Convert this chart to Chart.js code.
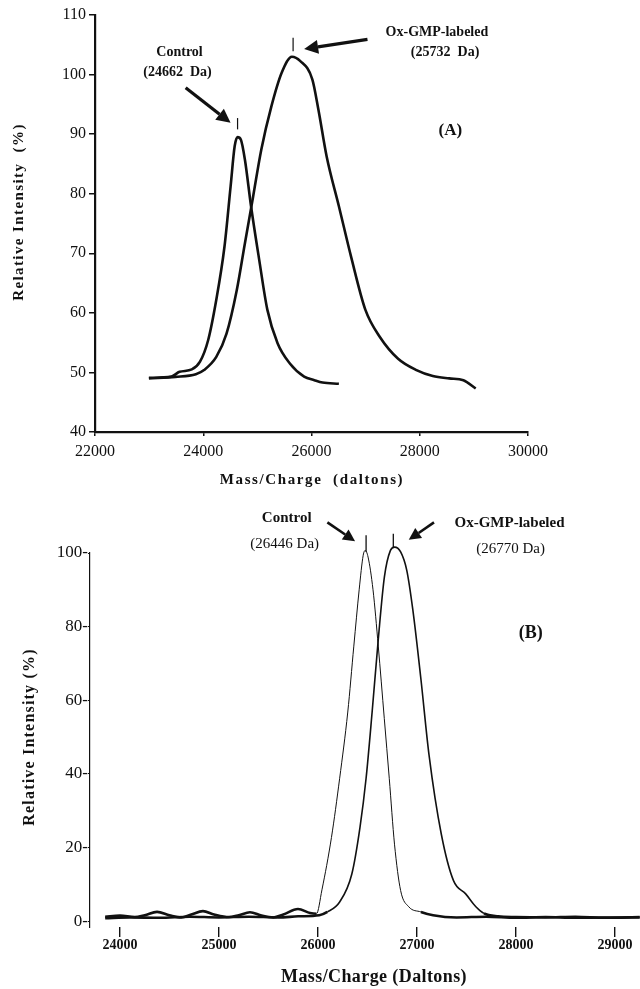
<!DOCTYPE html>
<html>
<head>
<meta charset="utf-8">
<script src="https://cdn.jsdelivr.net/npm/chart.js@4.4.1/dist/chart.umd.min.js"></script>
<style>
  html, body { margin: 0; padding: 0; background: #fff; }
  #wrapA { position: absolute; left: 0; top: 0; width: 640px; height: 490px; }
  #wrapB { position: absolute; left: 0; top: 490px; width: 640px; height: 499px; }
</style>
</head>
<body>
<div id="wrapA"><canvas id="chartA" width="640" height="490"></canvas></div>
<div id="wrapB"><canvas id="chartB" width="640" height="499"></canvas></div>
<script>
// ---------- Panel A data ----------
const ctrlA_mz  = [22996, 23411, 23562, 23789, 23940, 24090, 24241, 24392, 24505, 24581, 24634, 24694, 24770, 24883, 25034, 25185, 25373, 25600, 25864, 26053, 26204, 26506];
const ctrlA_int = [49.1, 49.3, 50.1, 50.5, 51.8, 55.4, 62.2, 71.1, 81.2, 88.0, 89.5, 89.1, 85.7, 77.9, 68.9, 60.5, 54.9, 51.5, 49.3, 48.7, 48.3, 48.1];

const oxA_mz  = [22996, 23487, 23864, 24015, 24241, 24430, 24619, 24770, 24921, 25072, 25260, 25449, 25638, 25789, 26015, 26128, 26279, 26506, 26732, 26996, 27260, 27600, 27939, 28241, 28543, 28807, 29034];
const oxA_int = [49.0, 49.25, 49.7, 50.4, 52.6, 56.5, 63.8, 71.7, 79.5, 87.4, 94.7, 100.3, 103.0, 102.3, 99.2, 94.1, 86.3, 77.9, 69.4, 60.5, 56.0, 52.3, 50.4, 49.4, 49.0, 48.7, 47.3];

const xTicksA = [22000, 24000, 26000, 28000, 30000];
const yTicksA = [40, 50, 60, 70, 80, 90, 100, 110];

// ---------- Panel B data ----------
const ctrlB_mz  = [23850, 24000, 24150, 24250, 24374, 24500, 24620, 24720, 24838, 24950, 25100, 25200, 25313, 25430, 25550, 25650, 25798, 25920, 25985, 26040, 26136, 26219, 26301, 26362, 26416, 26457, 26477, 26506, 26556, 26609, 26670, 26720, 26773, 26835, 26917, 27040, 27163, 27400, 27700, 28000, 28300, 28600, 28900, 29250];
const ctrlB_int = [1.2, 1.5, 1.1, 1.6, 2.5, 1.6, 1.0, 1.8, 2.7, 1.8, 1.1, 1.6, 2.4, 1.5, 1.0, 1.8, 3.3, 2.2, 2.0, 8.5, 22.7, 38.8, 56.8, 74.7, 90.0, 99.4, 100.7, 98.9, 90.0, 74.7, 55.0, 38.8, 20.9, 8.3, 3.9, 2.5, 1.6, 1.0, 1.2, 0.9, 1.1, 0.9, 1.0, 1.0];

const oxB_mz  = [23850, 24100, 24400, 24700, 25000, 25300, 25600, 25800, 26013, 26095, 26219, 26342, 26424, 26486, 26547, 26609, 26671, 26732, 26773, 26835, 26897, 26958, 27040, 27122, 27246, 27369, 27492, 27595, 27677, 27821, 28000, 28300, 28600, 28900, 29250];
const oxB_int = [0.8, 1.0, 0.9, 1.2, 1.0, 1.2, 1.0, 1.3, 1.6, 2.5, 5.2, 12.8, 25.4, 38.8, 56.8, 76.5, 93.5, 100.7, 101.6, 100.3, 95.3, 84.6, 65.7, 45.1, 23.6, 11.0, 7.4, 3.9, 2.1, 1.3, 1.1, 1.0, 1.2, 0.9, 1.1];

const xTicksB = [24000, 25000, 26000, 27000, 28000, 29000];
const yTicksB = [0, 20, 40, 60, 80, 100];

// annotations (data coordinates)
const peaksA  = [{ x: 24634, y0: 90.8, y1: 92.7 }, { x: 25660, y0: 103.9, y1: 106.2 }];
const arrowsA = [{ x0: 23675, y0: 97.8, x1: 24505, y1: 91.9 }, { x0: 27034, y0: 105.9, x1: 25864, y1: 104.3 }];
const textsA  = [
  { t: 'Control', x: 23562, y: 103.7 },
  { t: '(24662  Da)', x: 23524, y: 100.4 },
  { t: 'Ox-GMP-labeled', x: 28317, y: 107.0 },
  { t: '(25732  Da)', x: 28468, y: 103.8 },
  { t: '(A)', x: 28566, y: 90.6, size: 17 }
];

const peaksB  = [{ x: 26486, y0: 100.3, y1: 104.8 }, { x: 26761, y0: 101.6, y1: 105.2 }];
const arrowsB = [{ x0: 26095, y0: 108.3, x1: 26375, y1: 103.2 }, { x0: 27172, y0: 108.3, x1: 26917, y1: 103.6 }];
const textsB  = [
  { t: 'Control', x: 25684, y: 109.5 },
  { t: '(26446 Da)', x: 25664, y: 102.3, bold: false },
  { t: 'Ox-GMP-labeled', x: 27935, y: 108.2 },
  { t: '(26770 Da)', x: 27945, y: 101.1, bold: false },
  { t: '(B)', x: 28150, y: 78.3, size: 18 }
];

const SERIF = "'Liberation Serif', 'DejaVu Serif', serif";

function zip(xs, ys) {
  return xs.map((x, i) => ({ x: x, y: ys[i] }));
}

// draws peak marks, arrows, text labels (data coords) and the axis titles
const marksPlugin = {
  id: 'marks',
  afterDatasetsDraw(chart, args, opts) {
    const ctx = chart.ctx;
    const xs = chart.scales.x, ys = chart.scales.y;
    ctx.save();
    ctx.strokeStyle = '#111';
    ctx.fillStyle = '#111';

    (opts.peaks || []).forEach(p => {
      ctx.lineWidth = opts.peakWidth || 1.2;
      ctx.beginPath();
      ctx.moveTo(xs.getPixelForValue(p.x), ys.getPixelForValue(p.y0));
      ctx.lineTo(xs.getPixelForValue(p.x), ys.getPixelForValue(p.y1));
      ctx.stroke();
    });

    (opts.arrows || []).forEach(a => {
      const x0 = xs.getPixelForValue(a.x0), y0 = ys.getPixelForValue(a.y0);
      const x1 = xs.getPixelForValue(a.x1), y1 = ys.getPixelForValue(a.y1);
      const ang = Math.atan2(y1 - y0, x1 - x0);
      const hl = opts.headLen || 13, hw = opts.headWidth || 6;
      const bx = x1 - hl * Math.cos(ang), by = y1 - hl * Math.sin(ang);
      ctx.lineWidth = opts.arrowWidth || 3;
      ctx.beginPath();
      ctx.moveTo(x0, y0);
      ctx.lineTo(bx, by);
      ctx.stroke();
      ctx.beginPath();
      ctx.moveTo(x1, y1);
      ctx.lineTo(bx + hw * Math.sin(ang), by - hw * Math.cos(ang));
      ctx.lineTo(bx - hw * Math.sin(ang), by + hw * Math.cos(ang));
      ctx.closePath();
      ctx.fill();
    });

    ctx.textAlign = 'center';
    ctx.textBaseline = 'middle';
    (opts.texts || []).forEach(t => {
      const w = t.bold === false ? 'normal' : 'bold';
      ctx.font = w + ' ' + (t.size || opts.fontSize || 14) + 'px ' + SERIF;
      ctx.fillText(t.t, xs.getPixelForValue(t.x), ys.getPixelForValue(t.y));
    });

    // axis titles (spaced out like the original typesetting)
    (opts.titles || []).forEach(t => {
      ctx.save();
      ctx.translate(t.px, t.py);
      if (t.rot) ctx.rotate(t.rot);
      ctx.font = 'bold ' + t.size + 'px ' + SERIF;
      ctx.letterSpacing = (t.spacing || 0) + 'px';
      ctx.fillText(t.t, 0, 0);
      ctx.restore();
    });
    ctx.restore();
  }
};

// =========================
// PANEL A
// =========================
new Chart(document.getElementById('chartA'), {
  type: 'scatter',
  data: {
    datasets: [
      { label: 'Control', data: zip(ctrlA_mz, ctrlA_int) },
      { label: 'Ox-GMP-labeled', data: zip(oxA_mz, oxA_int) }
    ].map(d => Object.assign(d, {
      showLine: true, borderColor: '#111', borderWidth: 2.6, pointRadius: 0,
      cubicInterpolationMode: 'monotone', fill: false
    }))
  },
  options: {
    responsive: false,
    animation: false,
    devicePixelRatio: 1,
    layout: { padding: { top: 15, right: 112, left: 0, bottom: 0 } },
    plugins: {
      legend: { display: false },
      tooltip: { enabled: false },
      marks: {
        peaks: peaksA, arrows: arrowsA, texts: textsA, fontSize: 14, arrowWidth: 3.2, headLen: 14, headWidth: 7,
        titles: [
          { t: 'Mass/Charge  (daltons)', px: 312, py: 480, size: 15, spacing: 1.6 },
          { t: 'Relative Intensity  (%)', px: 19, py: 212, size: 15, spacing: 1.4, rot: -Math.PI / 2 }
        ]
      }
    },
    scales: {
      x: {
        type: 'linear', min: 22000, max: 30000,
        afterBuildTicks: s => { s.ticks = xTicksA.map(v => ({ value: v })); },
        afterFit: s => { s.height = 58; },
        border: { display: true, color: '#111', width: 2.2 },
        grid: { drawOnChartArea: false, drawTicks: true, tickLength: 4, color: '#111', lineWidth: 1.5 },
        ticks: { color: '#111', font: { family: SERIF, size: 16 }, padding: 6, maxRotation: 0, callback: v => String(v) }
      },
      y: {
        type: 'linear', min: 40, max: 110,
        afterBuildTicks: s => { s.ticks = yTicksA.map(v => ({ value: v })); },
        afterFit: s => { s.width = 95; },
        border: { display: true, color: '#111', width: 2.2 },
        grid: { drawOnChartArea: false, drawTicks: true, tickLength: 6, color: '#111', lineWidth: 1.5 },
        ticks: { color: '#111', font: { family: SERIF, size: 16 }, padding: 3 }
      }
    }
  },
  plugins: [marksPlugin]
});

// =========================
// PANEL B
// =========================
const thinBase = w => ({
  borderWidth: c => (c.p0.parsed.y < 3.6 && c.p1.parsed.y < 3.6) ? 2.6 : w
});

new Chart(document.getElementById('chartB'), {
  type: 'scatter',
  data: {
    datasets: [
      { label: 'Control', data: zip(ctrlB_mz, ctrlB_int), borderWidth: 1, segment: thinBase(1) },
      { label: 'Ox-GMP-labeled', data: zip(oxB_mz, oxB_int), borderWidth: 1.6, segment: thinBase(1.6) }
    ].map(d => Object.assign(d, {
      showLine: true, borderColor: '#111', pointRadius: 0,
      cubicInterpolationMode: 'monotone', fill: false, clip: false
    }))
  },
  options: {
    responsive: false,
    animation: false,
    devicePixelRatio: 1,
    layout: { padding: { top: 63, right: 0, left: 0, bottom: 0 } },
    plugins: {
      legend: { display: false },
      tooltip: { enabled: false },
      marks: {
        peaks: peaksB, arrows: arrowsB, texts: textsB, fontSize: 15, arrowWidth: 2.6, headLen: 12, headWidth: 6, peakWidth: 1.3,
        titles: [
          { t: 'Mass/Charge (Daltons)', px: 374, py: 487, size: 18, spacing: 0.4 },
          { t: 'Relative Intensity (%)', px: 30, py: 247, size: 16, spacing: 1.2, rot: -Math.PI / 2 }
        ]
      }
    },
    scales: {
      x: {
        type: 'linear', min: 23697, max: 29253,
        afterBuildTicks: s => { s.ticks = xTicksB.map(v => ({ value: v })); },
        afterFit: s => { s.height = 62; },
        border: { display: false },
        grid: { drawOnChartArea: false, drawTicks: true, tickLength: 10, color: '#111', lineWidth: 1.4 },
        ticks: { color: '#111', font: { family: SERIF, size: 14, weight: 'bold' }, padding: 0, maxRotation: 0, callback: v => String(v) }
      },
      y: {
        type: 'linear', min: -1.6, max: 100,
        afterBuildTicks: s => { s.ticks = yTicksB.map(v => ({ value: v })); },
        afterFit: s => { s.width = 90; },
        border: { display: true, color: '#111', width: 1.2, dash: [1, 1.5] },
        grid: { drawOnChartArea: false, drawTicks: true, tickLength: 2, color: '#111', lineWidth: 1 },
        ticks: { color: '#111', font: { family: SERIF, size: 17 }, padding: 0, callback: v => v + '-' }
      }
    }
  },
  plugins: [marksPlugin]
});
</script>
</body>
</html>
